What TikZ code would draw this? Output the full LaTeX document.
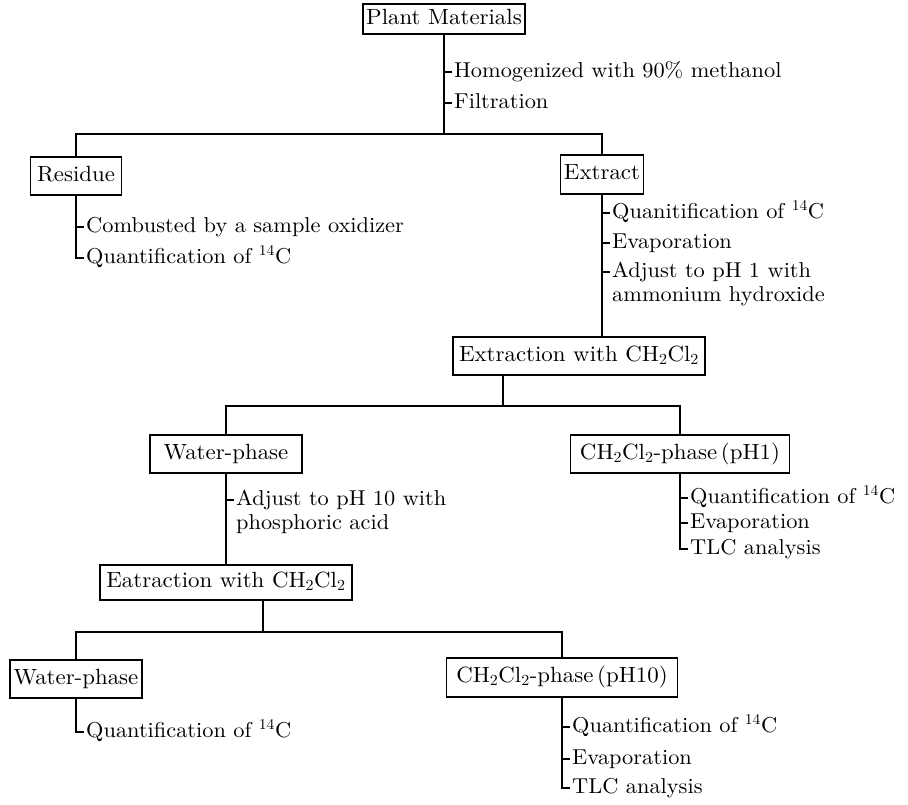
\documentclass[tikz,border=0pt]{standalone}
\usepackage{fontspec}
\setmainfont{lmroman10-regular.otf}[FakeStretch=1.04]
\usetikzlibrary{calc}
\tikzset{
  box/.style={draw, line width=1.3pt, inner sep=0pt, font=\fontsize{22}{26}\selectfont, text height=15pt, text depth=5pt},
  ann/.style={inner xsep=2pt, inner ysep=0pt, anchor=west, font=\fontsize{21.5}{25}\selectfont, text height=15pt, text depth=5pt},
  ln/.style={line width=1.3pt},
}
\begin{document}
\begin{tikzpicture}[x=1pt,y=-1pt]
\useasboundingbox (0,0) rectangle (908,804);
% boxes
\node[box, minimum width=162pt, minimum height=30pt] (pm) at (444,19) {Plant Materials};
\node[box, minimum width=91pt, minimum height=38pt] (res) at (76,176) {Residue};
\node[box, minimum width=83pt, minimum height=39pt] (ext) at (602,174.5) {Extract};
\node[box, minimum width=252pt, minimum height=38pt] (exw) at (579,356) {Extraction with CH\textsubscript{2}Cl\textsubscript{2}};
\node[box, minimum width=152pt, minimum height=38pt] (wp1) at (226,454) {Water-phase};
\node[box, minimum width=219pt, minimum height=38pt] (ph1) at (680,454) {CH\textsubscript{2}Cl\textsubscript{2}-phase\,(pH1)};
\node[box, minimum width=252pt, minimum height=35pt] (eat) at (226,582.5) {Eatraction with CH\textsubscript{2}Cl\textsubscript{2}};
\node[box, minimum width=132pt, minimum height=38pt] (wp2) at (76,679) {Water-phase};
\node[box, minimum width=231pt, minimum height=39pt] (ph10) at (562,677.5) {CH\textsubscript{2}Cl\textsubscript{2}-phase\,(pH10)};
% junctions
\coordinate (j1) at (444,134);
\coordinate (x1) at (503,406);
\coordinate (x2) at (263,632);
% annotations
\node[ann] (a1) at (452,72) {Homogenized with 90\% methanol};
\node[ann] (a2) at (452,103) {Filtration};
\node[ann] (r1) at (84,227) {Combusted by a sample oxidizer};
\node[ann] (r2) at (84,258) {Quantification of \textsuperscript{14}C};
\node[ann] (e1) at (610,213) {Quanitification of \textsuperscript{14}C};
\node[ann] (e2) at (610,243) {Evaporation};
\node[ann] (e3) at (610,272) {Adjust to pH 1 with};
\node[ann] (e4) at (610,296) {ammonium hydroxide};
\node[ann] (p1) at (688,498) {Quantification of \textsuperscript{14}C};
\node[ann] (p2) at (688,523) {Evaporation};
\node[ann] (p3) at (688,549) {TLC analysis};
\node[ann] (w1) at (234,500) {Adjust to pH 10 with};
\node[ann] (w2) at (234,524) {phosphoric acid};
\node[ann] (q1) at (84,732) {Quantification of \textsuperscript{14}C};
\node[ann] (t1) at (570,727) {Quantification of \textsuperscript{14}C};
\node[ann] (t2) at (570,759) {Evaporation};
\node[ann] (t3) at (570,788) {TLC analysis};
% connectors
\draw[ln] (pm.south) -- (j1);
\draw[ln] (a1.west -| pm.south) -- (a1.west);
\draw[ln] (a2.west -| pm.south) -- (a2.west);
\draw[ln] (res.north) |- (j1) -| (ext.north);
\draw[ln] (res.south) |- (r2.west);
\draw[ln] (r1.west -| res.south) -- (r1.west);
\draw[ln] (ext.south) -- (ext.south |- exw.north);
\draw[ln] (e1.west -| ext.south) -- (e1.west);
\draw[ln] (e2.west -| ext.south) -- (e2.west);
\draw[ln] (e3.west -| ext.south) -- (e3.west);
\draw[ln] (x1 |- exw.south) -- (x1);
\draw[ln] (wp1.north) |- (x1) -| (ph1.north);
\draw[ln] (ph1.south) |- (p3.west);
\draw[ln] (p1.west -| ph1.south) -- (p1.west);
\draw[ln] (p2.west -| ph1.south) -- (p2.west);
\draw[ln] (wp1.south) -- (wp1.south |- eat.north);
\draw[ln] (w1.west -| wp1.south) -- (w1.west);
\draw[ln] (x2 |- eat.south) -- (x2);
\draw[ln] (wp2.north) |- (x2) -| (ph10.north);
\draw[ln] (wp2.south) |- (q1.west);
\draw[ln] (ph10.south) |- (t3.west);
\draw[ln] (t1.west -| ph10.south) -- (t1.west);
\draw[ln] (t2.west -| ph10.south) -- (t2.west);
\end{tikzpicture}
\end{document}
